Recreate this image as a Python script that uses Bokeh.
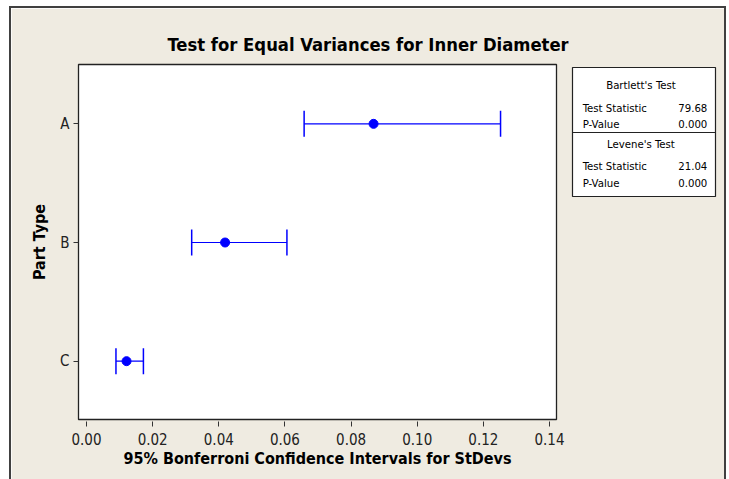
from bokeh.plotting import figure
from bokeh.layouts import row
from bokeh.models import (ColumnDataSource, Whisker, TeeHead, FixedTicker,
                          NumeralTickFormatter, Range1d, Span)
from bokeh.core.properties import value
from bokeh.embed import file_html
from bokeh.resources import INLINE

# ---- data ----
parts = ["A", "B", "C"]
sd_lower = [0.0658, 0.0318, 0.0089]
sd_estimate = [0.0868, 0.0419, 0.0121]
sd_upper = [0.1252, 0.0606, 0.0172]
x_ticks = [0.00, 0.02, 0.04, 0.06, 0.08, 0.10, 0.12, 0.14]

bartlett_title = "Bartlett's Test"
bartlett_stat = "79.68"
bartlett_p = "0.000"
levene_title = "Levene's Test"
levene_stat = "21.04"
levene_p = "0.000"
row_stat = "Test Statistic"
row_p = "P-Value"

FONT = "DejaVu Sans Condensed"
BEIGE = "#EFEBE1"
BLUE = "#0000FF"
BW = 2
BORDER = "%dpx solid #404040" % BW
OVERLAP = 2

# ---- layout (page pixels) ----
X0, Y0 = 11, 8                 # canvas origin on the page
H = 471
SPLIT = 570                    # page x where the legend canvas starts
RIGHT = 724                    # page x where the legend canvas ends
BOX_L, BOX_R, BOX_T, BOX_B = 78, 554, 64, 417
LEG_L, LEG_R, LEG_T, LEG_B, LEG_MID = 572, 712, 67, 194, 131
PPU = 3293.0
X0_PX = 86
A_PX, ROW_PX = 123, 118

pos = list(range(1, len(parts) + 1))
src = ColumnDataSource(dict(pos=pos, lower=sd_lower, est=sd_estimate, upper=sd_upper))

# element sizes include the CSS borders (border-box)
p = figure(width=SPLIT - X0 + BW, height=H + BW,
           x_range=Range1d((BOX_L - X0_PX) / PPU, (BOX_R - X0_PX) / PPU),
           y_range=Range1d(1 + (BOX_B - A_PX) / ROW_PX, 1 - (A_PX - BOX_T) / ROW_PX),
           output_backend="svg", toolbar_location=None,
           min_border_left=BOX_L - X0, min_border_right=SPLIT - BOX_R,
           min_border_top=BOX_T - Y0, min_border_bottom=Y0 + H - BOX_B,
           title="Test for Equal Variances for Inner Diameter")
p.frame_align = False
p.styles = {"margin-left": "%dpx" % (X0 - BW), "margin-top": "%dpx" % (Y0 - BW),
            "border-left": BORDER, "border-top": BORDER}

p.background_fill_color = "white"
p.border_fill_color = BEIGE
p.outline_line_color = "#222222"
p.outline_line_width = 1.3
p.grid.visible = False

p.title.align = "left"
p.title.offset = 167 - BOX_L
p.title.text_font = FONT
p.title.text_font_size = "18.3px"
p.title.text_font_style = "bold"
p.title.text_color = "black"
p.title.standoff = 20

p.xaxis.ticker = FixedTicker(ticks=x_ticks)
p.xaxis.formatter = NumeralTickFormatter(format="0.00")
p.xaxis.axis_label = "95% Bonferroni Confidence Intervals for StDevs"
p.yaxis.ticker = FixedTicker(ticks=pos)
p.yaxis.major_label_overrides = {k: v for k, v in zip(pos, parts)}
p.yaxis.axis_label = "Part Type"

for ax in (p.xaxis, p.yaxis):
    ax.axis_line_color = None
    ax.major_tick_in = 0
    ax.major_tick_out = 5
    ax.major_tick_line_color = "#333333"
    ax.minor_tick_line_color = None
    ax.major_label_text_font = FONT
    ax.major_label_text_font_size = "15px"
    ax.major_label_text_color = "#222222"
    ax.axis_label_text_font = FONT
    ax.axis_label_text_font_size = "16px"
    ax.axis_label_text_font_style = "bold"
    ax.axis_label_text_color = "black"
p.xaxis.major_tick_in = -2
p.xaxis.major_tick_out = 7
p.xaxis.major_label_standoff = 6
p.xaxis.axis_label_standoff = 1
p.yaxis.major_label_standoff = 4
p.yaxis.axis_label_standoff = 8

# intervals
w = Whisker(source=src, base="pos", lower="lower", upper="upper", dimension="width",
            line_color=BLUE, line_width=1.2, level="annotation",
            lower_head=TeeHead(size=26, line_color=BLUE, line_width=1.5),
            upper_head=TeeHead(size=26, line_color=BLUE, line_width=1.5))
p.add_layout(w)
p.scatter(x="est", y="pos", source=src, size=9, color=BLUE, level="overlay")

# ---- legend table panel (page-pixel coordinates) ----
q = figure(width=RIGHT - SPLIT + BW + OVERLAP, height=H + BW,
           x_range=Range1d(LEG_L, LEG_R), y_range=Range1d(LEG_B, LEG_T),
           output_backend="svg", toolbar_location=None,
           min_border_left=LEG_L - SPLIT + OVERLAP, min_border_right=RIGHT - LEG_R - 1,
           min_border_top=LEG_T - Y0, min_border_bottom=Y0 + H - LEG_B)
q.frame_align = False
q.styles = {"margin-top": "%dpx" % (Y0 - BW), "margin-left": "-%dpx" % OVERLAP,
            "border-top": BORDER, "border-right": BORDER}
q.axis.visible = False
q.grid.visible = False
q.background_fill_color = "white"
q.border_fill_color = BEIGE
q.outline_line_color = "#222222"
q.outline_line_width = 1.2
q.add_layout(Span(location=LEG_MID, dimension="width", line_color="#222222", line_width=1.2))

fs = "11.3px"
q.text(x=[639, 639], y=[85, 143], text=[bartlett_title, levene_title],
       text_align="center", text_baseline="middle",
       text_font=value(FONT), text_font_size=fs, text_color="black")
ys = [107, 123, 164, 181]
q.text(x=[582] * 4, y=ys, text=[row_stat, row_p, row_stat, row_p],
       text_align="left", text_baseline="middle",
       text_font=value(FONT), text_font_size=fs, text_color="black")
q.text(x=[704] * 4, y=ys, text=[bartlett_stat, bartlett_p, levene_stat, levene_p],
       text_align="right", text_baseline="middle",
       text_font=value(FONT), text_font_size=fs, text_color="black")

layout = row(p, q, spacing=0)
open("out.html", "w").write(file_html(layout, INLINE))
